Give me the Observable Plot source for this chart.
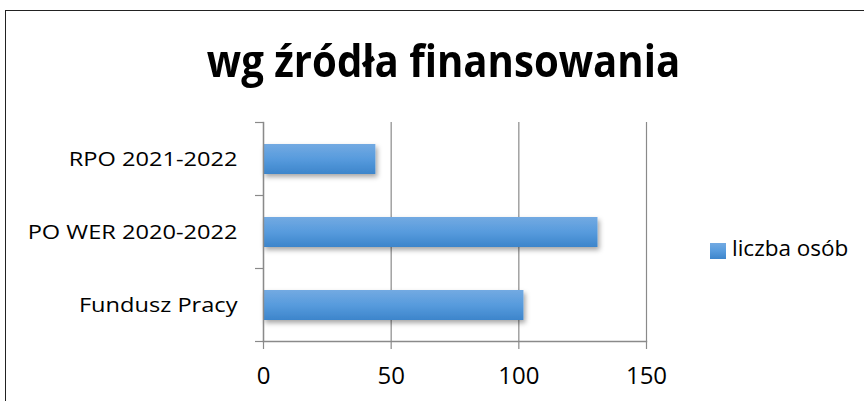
<!DOCTYPE html>
<html>
<head>
<meta charset="utf-8">
<script src="https://cdn.jsdelivr.net/npm/d3@7"></script>
<script src="https://cdn.jsdelivr.net/npm/@observablehq/plot@0.6"></script>
<style>
html, body { margin: 0; padding: 0; background: #fff; }
#wrap { position: relative; width: 864px; height: 401px; overflow: hidden; font-family: "Open Sans", sans-serif; color: #000; }
#frame { position: absolute; left: 5px; top: 10px; width: 920px; height: 520px; border: 1.6px solid #222; box-sizing: border-box; }
#title { position: absolute; left: 0; top: 30px; width: 888px; height: 60px; line-height: 60px; text-align: center; font-weight: bold; font-size: 44px; white-space: nowrap; }
#title span { display: inline-block; transform: scaleX(0.912); transform-origin: center; }
#chart { position: absolute; left: 0; top: 100px; }
#legend-swatch { position: absolute; left: 710px; top: 243px; width: 16px; height: 16px; background: linear-gradient(#73aae2, #579bdd 50%, #3d85cb); }
#legend-text { position: absolute; left: 732px; top: 236px; line-height: 24px; font-size: 22.5px; white-space: nowrap; }
</style>
</head>
<body>
<div id="wrap">
  <div id="frame"></div>
  <div id="title"><span></span></div>
  <div id="chart"></div>
  <div id="legend-swatch"></div>
  <div id="legend-text"></div>
</div>
<script>
const titleText = "wg źródła finansowania";
const categories = ["RPO 2021-2022", "PO WER 2020-2022", "Fundusz Pracy"];
const values = [44, 131, 102];
const xTicks = [0, 50, 100, 150];
const seriesName = "liczba osób";

const gray = "#8a8a8a";
const data = categories.map((c, i) => ({category: c, value: values[i]}));

document.querySelector("#title span").textContent = titleText;
document.querySelector("#legend-text").textContent = seriesName;

const defs = () => {
  const d = d3.create("svg:defs");
  const g = d.append("linearGradient").attr("id", "barGrad")
    .attr("x1", 0).attr("y1", 0).attr("x2", 0).attr("y2", 1);
  g.append("stop").attr("offset", "0%").attr("stop-color", "#73aae2");
  g.append("stop").attr("offset", "50%").attr("stop-color", "#579bdd");
  g.append("stop").attr("offset", "100%").attr("stop-color", "#3d85cb");
  const f = d.append("filter").attr("id", "shadow")
    .attr("x", "-10%").attr("y", "-30%").attr("width", "130%").attr("height", "180%");
  f.append("feDropShadow").attr("dx", 2).attr("dy", 3).attr("stdDeviation", 2.5)
    .attr("flood-color", "#000").attr("flood-opacity", 0.35);
  return d.node();
};

// tick marks at the boundaries between category bands (left of the y axis)
const bandTicks = (index, scales, values, dims) => {
  const y = scales.y;
  const step = y.step();
  const ys = y.domain().map(d => y(d) + y.bandwidth() / 2 - step / 2);
  ys.push(ys[ys.length - 1] + step);
  const g = d3.create("svg:g").attr("stroke", gray).attr("stroke-width", 1.2);
  g.selectAll("line").data(ys).join("line")
    .attr("x1", dims.marginLeft - 8).attr("x2", dims.marginLeft)
    .attr("y1", d => d).attr("y2", d => d);
  return g.node();
};

const chart = Plot.plot({
  width: 864,
  height: 301,
  marginLeft: 263,
  marginRight: 218,
  marginTop: 22,
  marginBottom: 60,
  style: {fontFamily: "Open Sans", fontSize: "24px", color: "#000", background: "transparent", overflow: "visible"},
  x: {domain: [0, 150], label: null},
  y: {domain: categories, paddingInner: 0.59, paddingOuter: 0.295, label: null},
  marks: [
    defs,
    Plot.gridX(xTicks, {stroke: gray, strokeOpacity: 1, strokeWidth: 1.2}),
    Plot.barX(data, {x: "value", y: "category", fill: "url(#barGrad)"}),
    Plot.frame({anchor: "left", stroke: gray, strokeWidth: 1.4}),
    Plot.frame({anchor: "bottom", stroke: gray, strokeWidth: 1.4}),
    bandTicks,
    Plot.axisX({ticks: xTicks, tickSize: 8, tickPadding: 17, stroke: gray, strokeWidth: 1.2, label: null, fontSize: 24}),
    Plot.axisY({tickSize: 0, tickPadding: 26, label: null, fontSize: 20})
  ]
});

document.getElementById("chart").appendChild(chart);

// drop shadow under bars
d3.select(chart).selectAll("g[aria-label=bar]").attr("filter", "url(#shadow)");

// horizontally stretch the category labels (as in the reference)
d3.select(chart).selectAll("g[aria-label='y-axis tick label'] text").each(function() {
  const len = this.getComputedTextLength();
  this.setAttribute("textLength", len * 1.18);
  this.setAttribute("lengthAdjust", "spacingAndGlyphs");
});
</script>
</body>
</html>
